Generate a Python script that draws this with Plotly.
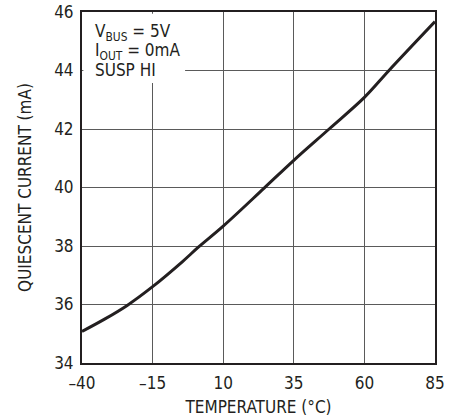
import plotly.graph_objects as go

temperature = [-40, -32, -24, -15, -4.5, 1.2, 10, 24.5, 35, 47.5, 60, 68.7, 85]
current_ma = [35.08, 35.5, 35.97, 36.61, 37.46, 37.96, 38.68, 39.98, 40.93, 42.0, 43.08, 44.0, 45.67]

x_ticks = [-40, -15, 10, 35, 60, 85]
y_ticks = [34, 36, 38, 40, 42, 44, 46]

note_lines = ["V<sub>BUS</sub> = 5V", "I<sub>OUT</sub> = 0mA", "SUSP HI"]
note_y = [45.3, 44.66, 44.02]

FONT = "DejaVu Sans Condensed, Arial Narrow, sans-serif"
INK = "#231f20"

fig = go.Figure()
fig.add_trace(go.Scatter(
    x=temperature, y=current_ma, mode="lines",
    line=dict(color=INK, width=3, shape="spline", smoothing=1.0),
    showlegend=False, hoverinfo="skip",
))

fig.add_shape(type="rect", xref="paper", yref="paper",
              x0=0.004, x1=0.292, y0=0.798, y1=0.995,
              fillcolor="white", line=dict(width=0), layer="above")

for txt, yv in zip(note_lines, note_y):
    fig.add_annotation(
        xref="paper", yref="y", x=0.03, y=yv, xanchor="left", yanchor="middle",
        align="left", showarrow=False, text=txt,
        font=dict(family=FONT, size=17, color=INK),
    )

axis_common = dict(
    showline=True, linecolor=INK, linewidth=2, mirror=True,
    showgrid=True, gridcolor="#5a5a5a", gridwidth=1,
    zeroline=False, automargin=False, ticklabeloverflow="allow",
    ticks="outside", tickcolor="white",
    tickfont=dict(family=FONT, size=17, color=INK),
)

fig.update_xaxes(range=[-40, 85], tickvals=x_ticks,
                 ticktext=[("\u2013" + str(-v)) if v < 0 else str(v) for v in x_ticks],
                 ticklen=4,
                 title=dict(text="TEMPERATURE (°C)", standoff=9,
                            font=dict(family=FONT, size=17, color=INK)),
                 **axis_common)
fig.update_yaxes(range=[34, 46], tickvals=y_ticks, ticklen=3,
                 title=dict(text="QUIESCENT CURRENT (mA)", standoff=18,
                            font=dict(family=FONT, size=17, color=INK)),
                 **axis_common)

fig.update_layout(
    width=459, height=420,
    margin=dict(l=82, r=24, t=12, b=57),
    paper_bgcolor="white", plot_bgcolor="white",
)

# Remove the browser's default 8px body margin so the figure fills the window.
fig.write_html("out.html", config={"displayModeBar": False},
               post_script="document.body.style.margin='0';")
